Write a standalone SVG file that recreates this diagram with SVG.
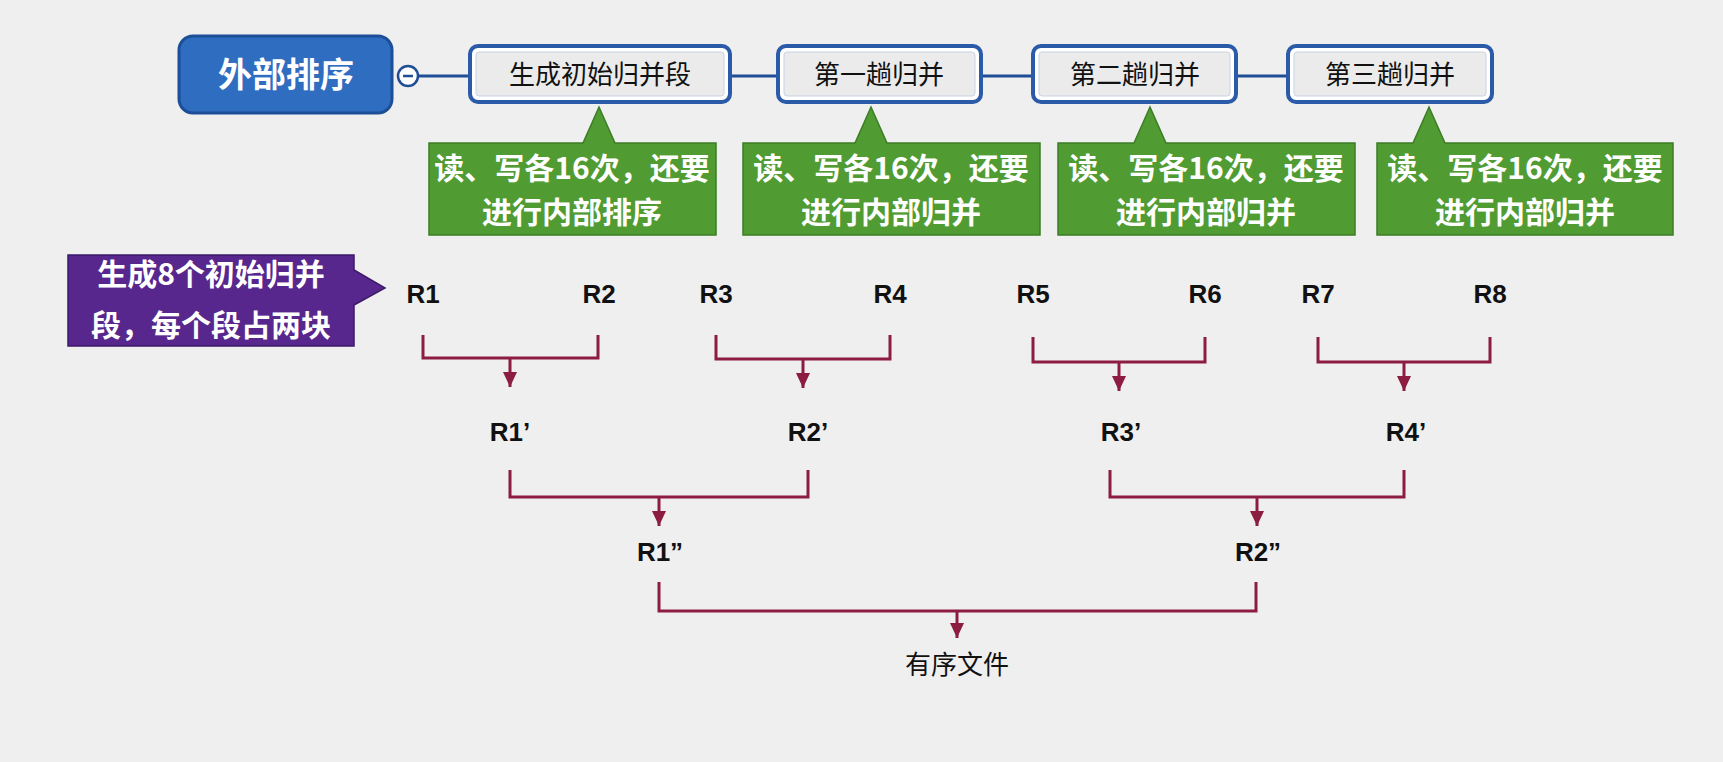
<svg xmlns="http://www.w3.org/2000/svg" width="1723" height="762" viewBox="0 0 1723 762">
<defs>
<style>
.bg{fill:#efefef}
.topline{stroke:#1f4e96;stroke-width:3;fill:none}
.box-o{fill:#ffffff;stroke:#2a5aa8;stroke-width:4}
.box-i{fill:#ebebeb;stroke:#c9d3e3;stroke-width:1}
.box-t{font-family:"Noto Sans CJK SC",sans-serif;font-size:26px;fill:#111;text-anchor:middle}
.green{fill:#519b33;stroke:#3b7d24;stroke-width:1.5}
.green-t{font-family:"Noto Sans CJK SC",sans-serif;font-size:30px;font-weight:bold;fill:#fff;text-anchor:middle}
.purple{fill:#57278d;stroke:#3d1a6a;stroke-width:1.5}
.r{font-family:"Liberation Sans",Arial,sans-serif;font-size:26px;font-weight:bold;fill:#111;text-anchor:middle}
.conn{stroke:#8c1d40;stroke-width:3;fill:none}
</style>
<marker id="ad" markerUnits="userSpaceOnUse" markerWidth="16" markerHeight="16" viewBox="0 0 16 16" refX="8" refY="15" orient="0">
<path d="M1 0 L15 0 L8 15 Z" fill="#8c1d40"/>
</marker>
</defs>
<rect class="bg" x="0" y="0" width="1723" height="762"/>

<g id="connectors-top">
<line class="topline" x1="418" y1="76" x2="470" y2="76"/>
<line class="topline" x1="730" y1="76" x2="778" y2="76"/>
<line class="topline" x1="981" y1="76" x2="1033" y2="76"/>
<line class="topline" x1="1236" y1="76" x2="1288" y2="76"/>
</g>

<g id="root">
<rect x="179" y="36" width="213" height="77" rx="14" fill="#2f6dc0" stroke="#1d4f98" stroke-width="3"/>
<text x="286" y="87" font-family="Noto Sans CJK SC,sans-serif" font-size="34" font-weight="bold" fill="#fff" text-anchor="middle">外部排序</text>
</g>
<g id="collapse">
<circle cx="408" cy="76" r="10" fill="#fff" stroke="#1f4e96" stroke-width="2.5"/>
<line x1="403" y1="76" x2="413" y2="76" stroke="#1f4e96" stroke-width="2.5"/>
</g>

<g id="box1">
<rect class="box-o" x="470" y="46" width="260" height="56" rx="8"/>
<rect class="box-i" x="476" y="52" width="248" height="44" rx="3"/>
<text class="box-t" x="600" y="84">生成初始归并段</text>
</g>
<g id="box2">
<rect class="box-o" x="778" y="46" width="203" height="56" rx="8"/>
<rect class="box-i" x="784" y="52" width="191" height="44" rx="3"/>
<text class="box-t" x="879" y="84">第一趟归并</text>
</g>
<g id="box3">
<rect class="box-o" x="1033" y="46" width="203" height="56" rx="8"/>
<rect class="box-i" x="1039" y="52" width="191" height="44" rx="3"/>
<text class="box-t" x="1135" y="84">第二趟归并</text>
</g>
<g id="box4">
<rect class="box-o" x="1288" y="46" width="204" height="56" rx="8"/>
<rect class="box-i" x="1294" y="52" width="192" height="44" rx="3"/>
<text class="box-t" x="1390" y="84">第三趟归并</text>
</g>

<g id="note1">
<path class="green" d="M429 143 H583 L599 107 L615 143 H716 V235 H429 Z"/>
<text class="green-t" x="572" y="179">读、写各16次，还要</text>
<text class="green-t" x="572" y="223">进行内部排序</text>
</g>
<g id="note2">
<path class="green" d="M743 143 H855 L871 107 L887 143 H1040 V235 H743 Z"/>
<text class="green-t" x="891" y="179">读、写各16次，还要</text>
<text class="green-t" x="891" y="223">进行内部归并</text>
</g>
<g id="note3">
<path class="green" d="M1058 143 H1134 L1150 107 L1166 143 H1355 V235 H1058 Z"/>
<text class="green-t" x="1206" y="179">读、写各16次，还要</text>
<text class="green-t" x="1206" y="223">进行内部归并</text>
</g>
<g id="note4">
<path class="green" d="M1377 143 H1413 L1429 107 L1445 143 H1673 V235 H1377 Z"/>
<text class="green-t" x="1525" y="179">读、写各16次，还要</text>
<text class="green-t" x="1525" y="223">进行内部归并</text>
</g>

<g id="note-purple">
<path class="purple" d="M68 255 H354 V270 L385 288 L354 305 V346 H68 Z"/>
<text class="green-t" x="211" y="285">生成8个初始归并</text>
<text class="green-t" x="211" y="336">段，每个段占两块</text>
</g>

<g id="runs">
<text class="r" x="423" y="303">R1</text>
<text class="r" x="599" y="303">R2</text>
<text class="r" x="716" y="303">R3</text>
<text class="r" x="890" y="303">R4</text>
<text class="r" x="1033" y="303">R5</text>
<text class="r" x="1205" y="303">R6</text>
<text class="r" x="1318" y="303">R7</text>
<text class="r" x="1490" y="303">R8</text>
</g>
<g id="runs2">
<text class="r" x="510" y="441">R1’</text>
<text class="r" x="808" y="441">R2’</text>
<text class="r" x="1121" y="441">R3’</text>
<text class="r" x="1406" y="441">R4’</text>
</g>
<g id="runs3">
<text class="r" x="660" y="561">R1”</text>
<text class="r" x="1258" y="561">R2”</text>
</g>
<g id="result">
<text x="957" y="674" font-family="Noto Sans CJK SC,sans-serif" font-size="26" fill="#111" text-anchor="middle">有序文件</text>
</g>

<g id="connectors">
<path class="conn" d="M423 335 V358 H598 V335"/>
<path class="conn" d="M510 358 V387" marker-end="url(#ad)"/>
<path class="conn" d="M716 335 V359 H890 V335"/>
<path class="conn" d="M803 359 V388" marker-end="url(#ad)"/>
<path class="conn" d="M1033 337 V362 H1205 V337"/>
<path class="conn" d="M1119 362 V391" marker-end="url(#ad)"/>
<path class="conn" d="M1318 337 V362 H1490 V337"/>
<path class="conn" d="M1404 362 V391" marker-end="url(#ad)"/>
<path class="conn" d="M510 470 V497 H808 V470"/>
<path class="conn" d="M659 497 V526" marker-end="url(#ad)"/>
<path class="conn" d="M1110 470 V497 H1404 V470"/>
<path class="conn" d="M1257 497 V526" marker-end="url(#ad)"/>
<path class="conn" d="M659 582 V611 H1256 V582"/>
<path class="conn" d="M957 611 V638" marker-end="url(#ad)"/>
</g>
</svg>
